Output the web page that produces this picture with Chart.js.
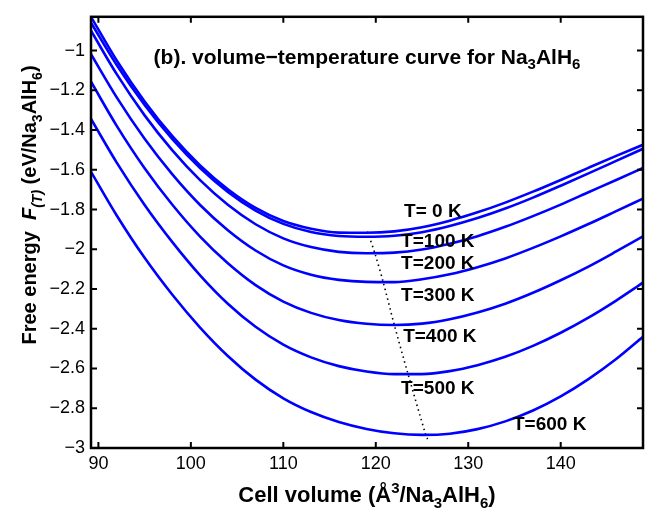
<!DOCTYPE html>
<html><head><meta charset="utf-8">
<script src="https://cdn.jsdelivr.net/npm/chart.js@4.4.0/dist/chart.umd.min.js"></script>
<style>html,body{margin:0;padding:0;background:#fff;overflow:hidden}#wrap{width:652px;height:510px;position:relative}</style>
</head><body><div id="wrap"><canvas id="c" width="652" height="510"></canvas></div>
<script>
// ---- data ----
const volumes = [89.2, 92, 95, 98, 101, 104, 107, 110, 113, 116, 119, 122, 125, 128, 131, 134, 137, 140, 143, 146, 148.9];
const F_0K   = [-0.830, -1.051, -1.256, -1.431, -1.578, -1.698, -1.792, -1.858, -1.897, -1.916, -1.917, -1.910, -1.889, -1.856, -1.814, -1.765, -1.710, -1.651, -1.590, -1.530, -1.474];
const F_100K = [-0.860, -1.074, -1.274, -1.446, -1.591, -1.711, -1.805, -1.872, -1.913, -1.933, -1.937, -1.932, -1.914, -1.883, -1.843, -1.795, -1.740, -1.680, -1.618, -1.555, -1.494];
const F_200K = [-0.900, -1.120, -1.326, -1.502, -1.652, -1.776, -1.874, -1.945, -1.989, -2.013, -2.020, -2.017, -2.001, -1.972, -1.934, -1.887, -1.833, -1.775, -1.713, -1.651, -1.591];
const F_300K = [-1.018, -1.237, -1.444, -1.623, -1.777, -1.904, -2.006, -2.081, -2.128, -2.154, -2.164, -2.165, -2.151, -2.126, -2.090, -2.046, -1.993, -1.935, -1.873, -1.808, -1.745];
const F_400K = [-1.157, -1.380, -1.592, -1.776, -1.936, -2.070, -2.180, -2.263, -2.320, -2.356, -2.375, -2.381, -2.374, -2.352, -2.318, -2.274, -2.219, -2.156, -2.087, -2.011, -1.935];
const F_500K = [-1.344, -1.565, -1.777, -1.964, -2.131, -2.274, -2.390, -2.480, -2.544, -2.588, -2.615, -2.628, -2.628, -2.613, -2.583, -2.541, -2.486, -2.420, -2.344, -2.258, -2.168];
const F_600K = [-1.610, -1.831, -2.043, -2.229, -2.394, -2.537, -2.656, -2.750, -2.819, -2.869, -2.904, -2.926, -2.934, -2.928, -2.905, -2.866, -2.811, -2.740, -2.653, -2.552, -2.440];
const minVolumes  = [119.1, 119.9, 120.8, 122.0, 123.5, 125.4, 125.6];
const minEnergies = [-1.910, -2.020, -2.165, -2.380, -2.630, -2.934, -2.955];
const tempLabels = ['T= 0 K', 'T=100 K', 'T=200 K', 'T=300 K', 'T=400 K', 'T=500 K', 'T=600 K'];
const labelVolumes  = [126.17, 126.71, 126.71, 126.71, 126.93, 126.71, 138.81];
const labelEnergies = [-1.813, -1.961, -2.075, -2.233, -2.440, -2.702, -2.885];
const xTicks = [90, 100, 110, 120, 130, 140];
const yTicks = [-3, -2.8, -2.6, -2.4, -2.2, -2, -1.8, -1.6, -1.4, -1.2, -1];

const series = [F_0K, F_100K, F_200K, F_300K, F_400K, F_500K, F_600K];
const FONT = '"Liberation Sans", Arial, Helvetica, sans-serif';

const datasets = series.map((s, i) => ({
  label: tempLabels[i],
  data: volumes.map((v, k) => ({x: v, y: s[k]})),
  borderColor: 'rgb(0,0,255)', borderWidth: 2.6, pointRadius: 0,
  cubicInterpolationMode: 'monotone', fill: false
}));
datasets.push({
  label: 'minimum',
  data: minVolumes.map((v, k) => ({x: v, y: minEnergies[k]})),
  borderColor: '#000', borderWidth: 1.6, borderDash: [1.5, 3.5], pointRadius: 0, tension: 0.3, fill: false
});

function rich(ctx, segs, x, y, align) {
  let w = 0;
  segs.forEach(s => { ctx.font = s.f; s.w = ctx.measureText(s.t).width; w += s.w; });
  let cx = align === 'center' ? x - w / 2 : x;
  segs.forEach(s => { ctx.font = s.f; ctx.fillText(s.t, cx, y + (s.dy || 0)); cx += s.w; });
}

const decor = {
  id: 'decor',
  afterDatasetsDraw(chart) {
    const {ctx, chartArea: a, scales: {x, y}} = chart;
    ctx.save();
    ctx.fillStyle = '#000';
    // curve labels
    ctx.font = 'bold 19px ' + FONT; ctx.textAlign = 'center'; ctx.textBaseline = 'middle';
    tempLabels.forEach((t, i) => ctx.fillText(t, x.getPixelForValue(labelVolumes[i]), y.getPixelForValue(labelEnergies[i])));
    // frame
    ctx.strokeStyle = '#000'; ctx.lineWidth = 2.5;
    ctx.strokeRect(a.left, a.top, a.width, a.height);
    // inward ticks
    ctx.lineWidth = 2;
    ctx.beginPath();
    xTicks.forEach(v => { const p = x.getPixelForValue(v);
      ctx.moveTo(p, a.bottom); ctx.lineTo(p, a.bottom - 6);
      ctx.moveTo(p, a.top); ctx.lineTo(p, a.top + 6); });
    yTicks.forEach(v => { const p = y.getPixelForValue(v);
      ctx.moveTo(a.left, p); ctx.lineTo(a.left + 6, p);
      ctx.moveTo(a.right, p); ctx.lineTo(a.right - 6, p); });
    ctx.stroke();
    // title
    ctx.textAlign = 'left'; ctx.textBaseline = 'alphabetic';
    const B = 'bold 21px ' + FONT, S = 'bold 15px ' + FONT;
    rich(ctx, [{t: '(b). volume\u2212temperature curve for Na', f: B}, {t: '3', f: S, dy: 5},
               {t: 'AlH', f: B}, {t: '6', f: S, dy: 5}], (a.left + a.right) / 2, 64, 'center');
    // x title
    const XB = 'bold 22px ' + FONT, XS = 'bold 15px ' + FONT;
    rich(ctx, [{t: 'Cell volume (\u00C5', f: XB}, {t: '3', f: XS, dy: -9}, {t: '/Na', f: XB},
               {t: '3', f: XS, dy: 6}, {t: 'AlH', f: XB}, {t: '6', f: XS, dy: 6}, {t: ')', f: XB}],
         (a.left + a.right) / 2, 502, 'center');
    // y title
    ctx.translate(36, 205); ctx.rotate(-Math.PI / 2);
    const YB = 'bold 20px ' + FONT, YI = 'italic bold 20px ' + FONT, YS = 'italic bold 14px ' + FONT, YN = 'bold 14px ' + FONT;
    rich(ctx, [{t: 'Free energy  ', f: YB}, {t: 'F', f: YI}, {t: '(T)', f: YS, dy: 6}, {t: ' (eV/Na', f: YB},
               {t: '3', f: YN, dy: 6}, {t: 'AlH', f: YB}, {t: '6', f: YN, dy: 6}, {t: ')', f: YB}], 0, 0, 'center');
    ctx.restore();
  }
};

new Chart(document.getElementById('c'), {
  type: 'line',
  data: {datasets},
  options: {
    responsive: false, animation: false, events: [],
    layout: {padding: {left: 0, right: 9, top: 9, bottom: 0}},
    plugins: {legend: {display: false}, tooltip: {enabled: false}, title: {display: false}},
    scales: {
      x: {type: 'linear', min: 89.2, max: 148.9,
          afterFit: s => { s.height = 62; },
          afterBuildTicks: s => { s.ticks = xTicks.map(v => ({value: v})); },
          grid: {display: false, drawTicks: false}, border: {display: false},
          ticks: {padding: 5, color: '#000', font: {family: FONT, size: 18}, maxRotation: 0,
                  callback: v => String(v)}},
      y: {type: 'linear', min: -3, max: -0.83,
          afterFit: s => { s.width = 91; },
          afterBuildTicks: s => { s.ticks = yTicks.map(v => ({value: v})); },
          grid: {display: false, drawTicks: false}, border: {display: false},
          ticks: {padding: 6, color: '#000', font: {family: FONT, size: 18},
                  callback: v => String(Math.round(v * 10) / 10).replace('-', '\u2212')}}
    }
  },
  plugins: [decor]
});
</script></body></html>
